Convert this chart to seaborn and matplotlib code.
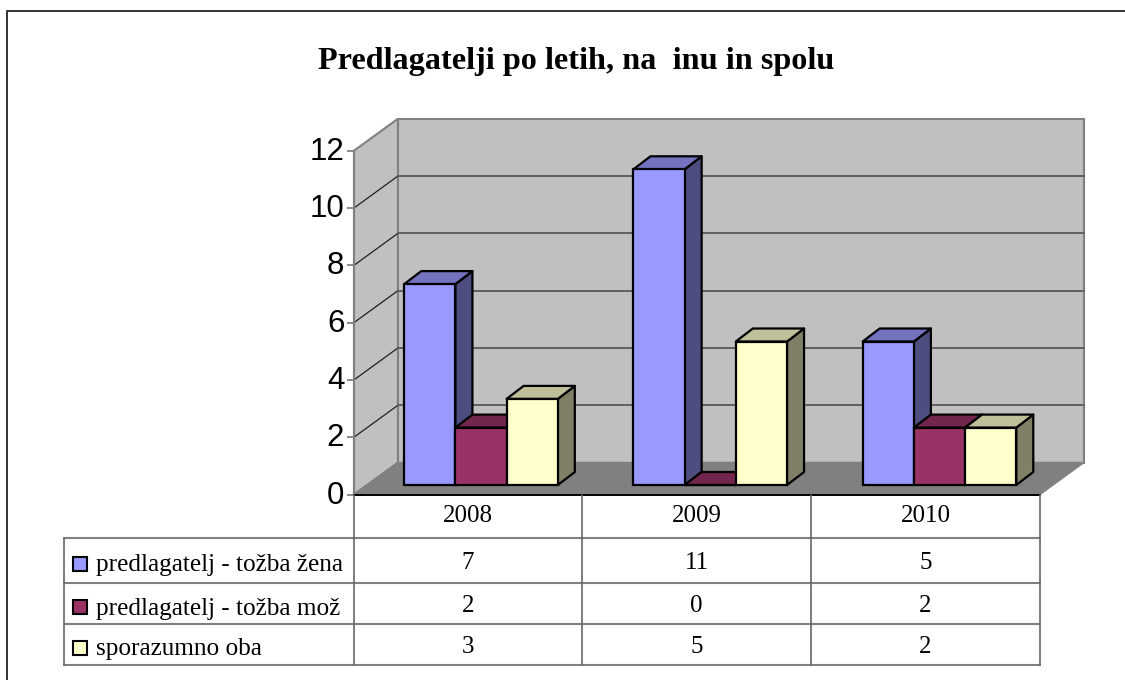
import matplotlib
matplotlib.use("Agg")
import matplotlib.pyplot as plt
from matplotlib.patches import Polygon, Rectangle
from matplotlib.transforms import ScaledTranslation
import pandas as pd
import seaborn as sns

years = ["2008", "2009", "2010"]
series_names = ["predlagatelj - tožba žena", "predlagatelj - tožba mož", "sporazumno oba"]
zena = [7, 11, 5]
moz = [2, 0, 2]
oba = [3, 5, 2]
y_ticks = [0, 2, 4, 6, 8, 10, 12]
colors = ["#9999FF", "#993366", "#FFFFCC"]
title = "Predlagatelji po letih, na  inu in spolu"

sns.set_theme(style="white")
W, H = 1125, 680
fig = plt.figure(figsize=(W / 100, H / 100), dpi=100)


def px_axes(left, top, right, bottom, z):
    ax = fig.add_axes([left / W, 1 - bottom / H, (right - left) / W, (bottom - top) / H], zorder=z)
    ax.patch.set_alpha(0)
    return ax


def shade(col, f):
    r, g, b = matplotlib.colors.to_rgb(col)
    return (r * f, g * f, b * f)


# pixel overlay for walls, floor, table and frame
bg = px_axes(0, 0, W, H, 0)
bg.set_xlim(0, W)
bg.set_ylim(H, 0)
bg.axis("off")

# frame
bg.plot([7, 7, 1125], [H, 11, 11], color="#333333", lw=1.4, solid_capstyle="butt")

# 3d box
y0, y12 = 494.5, 150.7
dx, dy = 44, -32
xl, xr = 354, 1040
unit = (y0 - y12) / 12
bg.add_patch(Polygon([(xl, y0), (xl, y12), (xl + dx, y12 + dy), (xl + dx, y0 + dy)], fc="#C0C0C0", ec="#808080", lw=1.5))
bg.add_patch(Polygon([(xl + dx, y0 + dy), (xl + dx, y12 + dy), (xr + dx, y12 + dy), (xr + dx, y0 + dy)], fc="#C0C0C0", ec="#808080", lw=1.5))
bg.add_patch(Polygon([(xl, y0), (xl + dx, y0 + dy), (xr + dx, y0 + dy), (xr, y0)], fc="#808080", ec="#808080", lw=1))
for t in y_ticks[1:-1]:
    yy = y0 - t * unit
    bg.plot([xl, xl + dx], [yy, yy + dy], color="#202020", lw=0.9)
    bg.plot([xl + dx, xr + dx], [yy + dy, yy + dy], color="#606060", lw=1.4)

# value axis
scale = px_axes(xl, y12, xl + 10, y0, 1)
scale.set_ylim(0, 12)
scale.set_yticks(y_ticks)
scale.set_xticks([])
scale.tick_params(axis="y", length=5, width=1.3, color="#808080", pad=2, labelsize=22.5, left=True)
nudge = ScaledTranslation(0, 2.5 / 100, fig.dpi_scale_trans)
for lab in scale.get_yticklabels():
    lab.set_family("Liberation Sans")
    lab.set_color("black")
    lab.set_transform(lab.get_transform() + nudge)
sns.despine(ax=scale, left=False, bottom=True, right=True, top=True)
scale.spines["left"].set_color("#808080")
scale.spines["left"].set_linewidth(1.5)

# bars
df = pd.DataFrame({
    "year": years * 3,
    "series": [s for s in series_names for _ in years],
    "value": zena + moz + oba,
})
ax = px_axes(366.4, 140.6, 1054.1, 485, 2)
sns.barplot(data=df, x="year", y="value", hue="series", hue_order=series_names, order=years,
            palette=colors, width=0.67, gap=0, saturation=1, edgecolor="black", linewidth=1.6,
            legend=False, ax=ax)
ax.set_xlim(-0.5, 2.5)
ax.set_ylim(0, 12)
ax.axis("off")

depth_x = 17 * 3 / (1054.1 - 366.4)
depth_y = 13 * 12 / (485 - 140.6)
bars = sorted([p for p in ax.patches if isinstance(p, Rectangle)], key=lambda p: p.get_x())
for i, p in enumerate(bars):
    x, w, h = p.get_x(), p.get_width(), p.get_height()
    col = p.get_facecolor()
    z = 3 + i * 3
    p.set_zorder(z + 2)
    p.set_clip_on(False)
    ax.add_patch(Polygon([(x + w, 0), (x + w, h), (x + w + depth_x, h + depth_y), (x + w + depth_x, depth_y)],
                         fc=shade(col, 0.5), ec="black", lw=1.6, zorder=z, clip_on=False, joinstyle="round"))
    ax.add_patch(Polygon([(x, h), (x + w, h), (x + w + depth_x, h + depth_y), (x + depth_x, h + depth_y)],
                         fc=shade(col, 0.75), ec="black", lw=1.6, zorder=z + 1, clip_on=False, joinstyle="round"))

# data table
tbl_left, tbl_bottom = 64, 665
col_edges = [354, 582, 811, 1040]
row_edges = [494.5, 538, 583, 624, 665]
line = "#808080"
bg2 = px_axes(0, 0, W, H, 3)
bg2.set_xlim(0, W)
bg2.set_ylim(H, 0)
bg2.axis("off")
bg2.plot([xl, xr], [y0, y0], color="black", lw=1.4)
for ye in row_edges[1:]:
    bg2.plot([tbl_left, xr], [ye, ye], color=line, lw=1.5)
for xe in col_edges:
    bg2.plot([xe, xe], [y0, tbl_bottom], color="#666666", lw=1.2)
bg2.plot([tbl_left, tbl_left], [row_edges[1], tbl_bottom], color="#666666", lw=1.2)

serif = "Liberation Serif"
for j, yr in enumerate(years):
    xc = (col_edges[j] + col_edges[j + 1]) / 2
    bg2.text(xc, 514, yr, ha="center", va="center_baseline", fontsize=18, family=serif, color="black")
    for k, vals in enumerate([zena, moz, oba]):
        yc = (row_edges[k + 1] + row_edges[k + 2]) / 2
        bg2.text(xc, yc, str(vals[j]), ha="center", va="center_baseline", fontsize=18, family=serif, color="black")
for k, name in enumerate(series_names):
    yc = (row_edges[k + 1] + row_edges[k + 2]) / 2 + 3.5
    bg2.add_patch(Rectangle((73, yc - 7), 14, 14, fc=colors[k], ec="black", lw=1.5))
    bg2.text(96, yc - 1, name, ha="left", va="center_baseline", fontsize=18.2, family=serif, color="black")

bg2.text(576, 58, title, ha="center", va="center_baseline", fontsize=23.2, fontweight="bold", family=serif, color="black")

fig.savefig("out.png", dpi=100)
